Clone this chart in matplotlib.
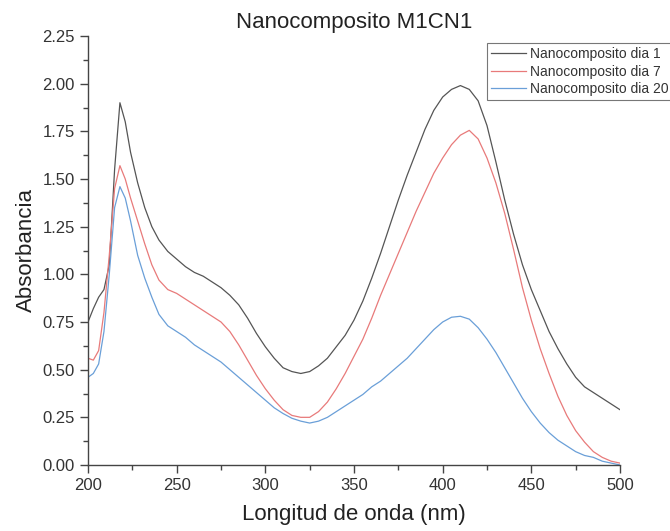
import matplotlib
matplotlib.use("Agg")
import matplotlib.pyplot as plt
from matplotlib.ticker import MultipleLocator

plt.rcParams['font.family'] = ['Liberation Sans', 'DejaVu Sans']

wavelength = [200, 203, 206, 209, 212, 215, 218, 221, 224, 228, 232, 236, 240, 245,
              250, 255, 260, 265, 270, 275, 280, 285, 290, 295, 300, 305, 310, 315,
              320, 325, 330, 335, 340, 345, 350, 355, 360, 365, 370, 375, 380, 385,
              390, 395, 400, 405, 410, 415, 420, 425, 430, 435, 440, 445, 450, 455,
              460, 465, 470, 475, 480, 485, 490, 495, 500]

dia1 = [0.75, 0.82, 0.88, 0.92, 1.05, 1.55, 1.90, 1.80, 1.64, 1.48, 1.35, 1.25, 1.18, 1.12,
        1.08, 1.04, 1.01, 0.99, 0.96, 0.93, 0.89, 0.84, 0.77, 0.69, 0.62, 0.56, 0.51, 0.49,
        0.48, 0.49, 0.52, 0.56, 0.62, 0.68, 0.76, 0.86, 0.98, 1.11, 1.25, 1.39, 1.52, 1.64,
        1.76, 1.86, 1.93, 1.97, 1.99, 1.97, 1.91, 1.78, 1.59, 1.39, 1.21, 1.05, 0.92, 0.81,
        0.70, 0.61, 0.53, 0.46, 0.41, 0.38, 0.35, 0.32, 0.29]

dia7 = [0.56, 0.55, 0.60, 0.80, 1.10, 1.45, 1.57, 1.50, 1.40, 1.28, 1.16, 1.05, 0.97, 0.92,
        0.90, 0.87, 0.84, 0.81, 0.78, 0.75, 0.70, 0.63, 0.55, 0.47, 0.40, 0.34, 0.29, 0.26,
        0.25, 0.25, 0.28, 0.33, 0.40, 0.48, 0.57, 0.66, 0.77, 0.89, 1.00, 1.11, 1.22, 1.33,
        1.43, 1.53, 1.61, 1.68, 1.73, 1.755, 1.71, 1.61, 1.48, 1.32, 1.13, 0.93, 0.76, 0.61,
        0.48, 0.36, 0.26, 0.18, 0.12, 0.07, 0.04, 0.02, 0.01]

dia20 = [0.46, 0.48, 0.53, 0.70, 1.00, 1.35, 1.46, 1.40, 1.28, 1.10, 0.98, 0.88, 0.79, 0.73,
         0.70, 0.67, 0.63, 0.60, 0.57, 0.54, 0.50, 0.46, 0.42, 0.38, 0.34, 0.30, 0.27, 0.245,
         0.23, 0.22, 0.23, 0.25, 0.28, 0.31, 0.34, 0.37, 0.41, 0.44, 0.48, 0.52, 0.56, 0.61,
         0.66, 0.71, 0.75, 0.775, 0.78, 0.765, 0.72, 0.66, 0.59, 0.51, 0.43, 0.35, 0.28, 0.22,
         0.17, 0.13, 0.10, 0.07, 0.05, 0.04, 0.02, 0.01, 0.0]

labels = ["Nanocomposito dia 1", "Nanocomposito dia 7", "Nanocomposito dia 20"]
colors = ["#555555", "#e87a7a", "#6a9fd8"]

fig = plt.figure(figsize=(6.7, 5.31), dpi=100)
ax = fig.add_axes([88/670, 1-465/531, 532/670, (465-36)/531])

for ys, lab, c in zip([dia1, dia7, dia20], labels, colors):
    ax.plot(wavelength, ys, color=c, lw=0.9, label=lab)

ax.set_xlim(200, 500)
ax.set_ylim(0, 2.25)
ax.xaxis.set_major_locator(MultipleLocator(50))
ax.xaxis.set_minor_locator(MultipleLocator(25))
ax.yaxis.set_major_locator(MultipleLocator(0.25))
ax.yaxis.set_minor_locator(MultipleLocator(0.125))
ax.yaxis.set_major_formatter(matplotlib.ticker.FormatStrFormatter('%.2f'))

for s in ['top', 'right']:
    ax.spines[s].set_visible(False)
for s in ['left', 'bottom']:
    ax.spines[s].set_color('#444444')
    ax.spines[s].set_linewidth(1.0)

ax.tick_params(which='major', direction='out', length=6, width=1, color='#444444',
               labelsize=12, labelcolor='#333333')
ax.tick_params(which='minor', direction='out', length=3.5, width=1, color='#444444')

ax.set_xlabel("Longitud de onda (nm)", fontsize=16, color='#222222', labelpad=8)
ax.set_ylabel("Absorbancia", fontsize=16, color='#222222', labelpad=4)
ax.set_title("Nanocomposito M1CN1", fontsize=16, color='#222222', pad=6)

leg = fig.legend(loc='upper left', bbox_to_anchor=(487/670, 1-43/531), fontsize=10,
                 frameon=True, fancybox=False, edgecolor='#555555', handlelength=2.5,
                 borderpad=0.3, labelspacing=0.25, handletextpad=0.3, borderaxespad=0)
leg.get_frame().set_linewidth(0.8)
for t in leg.get_texts():
    t.set_color('#333333')

fig.savefig("out.png", dpi=100)
